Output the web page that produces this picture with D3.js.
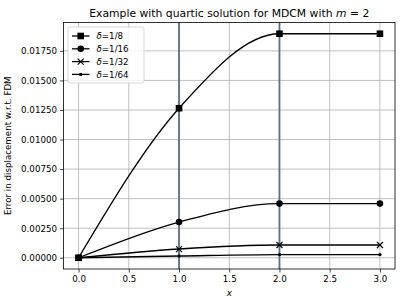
<!DOCTYPE html>
<html>
<head>
<meta charset="utf-8">
<script src="https://cdn.jsdelivr.net/npm/d3@7"></script>
<style>
  body { margin: 0; background: #fff; }
  text { font-family: "DejaVu Sans", sans-serif; }
</style>
</head>
<body>
<div id="chart"></div>
<script>
let xs = [0, 1, 2, 3]
let labels = ['1/8', '1/16', '1/32', '1/64']
let err8 = [0, 0.01265, 0.01895, 0.01895]
let err16 = [0, 0.00302, 0.00458, 0.00458]
let err32 = [0, 0.00074, 0.00108, 0.00108]
let err64 = [0, 0.00015, 0.00027, 0.00027]
let markers = ['square', 'circle', 'cross', 'dot']
let xTicks = [0, 0.5, 1, 1.5, 2, 2.5, 3]
let yTicks = [0, 0.0025, 0.005, 0.0075, 0.01, 0.0125, 0.015, 0.0175]
let vLines = [1, 2]

let series = [err8, err16, err32, err64]

let width = 402, height = 304
let margin = {top: 22.5, right: 7, bottom: 35, left: 63.5}
let plotW = width - margin.left - margin.right
let plotH = height - margin.top - margin.bottom

let svg = d3.select('#chart').append('svg')
    .attr('width', width)
    .attr('height', height)

let g = svg.append('g')
    .attr('transform', `translate(${margin.left},${margin.top})`)

let x = d3.scaleLinear().domain([-0.15, 3.15]).range([0, plotW])
let y = d3.scaleLinear().domain([-0.00095, 0.01990]).range([plotH, 0])

// grid
g.append('g').selectAll('line').data(xTicks).enter().append('line')
    .attr('x1', d => x(d)).attr('x2', d => x(d))
    .attr('y1', 0).attr('y2', plotH)
    .attr('stroke', '#b0b0b0').attr('stroke-width', 0.8)
g.append('g').selectAll('line').data(yTicks).enter().append('line')
    .attr('y1', d => y(d)).attr('y2', d => y(d))
    .attr('x1', 0).attr('x2', plotW)
    .attr('stroke', '#b0b0b0').attr('stroke-width', 0.8)

// vertical markers at x=1, x=2
g.append('g').selectAll('line').data(vLines).enter().append('line')
    .attr('x1', d => x(d)).attr('x2', d => x(d))
    .attr('y1', 0).attr('y2', plotH)
    .attr('stroke', '#5b6f80').attr('stroke-width', 1.8)

let line = d3.line()
    .x((d, i) => x(xs[i]))
    .y(d => y(d))
    .curve(d3.curveMonotoneX)

function drawMarker(sel, type, cx, cy) {
    if (type == 'square') {
        sel.append('rect').attr('x', cx - 3.3).attr('y', cy - 3.3)
            .attr('width', 6.6).attr('height', 6.6).attr('fill', '#000')
    } else if (type == 'circle') {
        sel.append('circle').attr('cx', cx).attr('cy', cy).attr('r', 3.3).attr('fill', '#000')
    } else if (type == 'cross') {
        sel.append('path')
            .attr('d', `M${cx - 3},${cy - 3}L${cx + 3},${cy + 3}M${cx - 3},${cy + 3}L${cx + 3},${cy - 3}`)
            .attr('stroke', '#000').attr('stroke-width', 1.1)
    } else {
        sel.append('circle').attr('cx', cx).attr('cy', cy).attr('r', 1.7).attr('fill', '#000')
    }
}

series.forEach((s, k) => {
    g.append('path')
        .datum(s)
        .attr('fill', 'none')
        .attr('stroke', '#000')
        .attr('stroke-width', 1.3)
        .attr('d', line)
    let mg = g.append('g')
    s.forEach((v, i) => drawMarker(mg, markers[k], x(xs[i]), y(v)))
})

// axes
let xAxis = g.append('g')
    .attr('transform', `translate(0,${plotH})`)
    .call(d3.axisBottom(x).tickValues(xTicks).tickFormat(d3.format('.1f')).tickSize(3.5).tickPadding(3))
let yAxis = g.append('g')
    .call(d3.axisLeft(y).tickValues(yTicks).tickFormat(d3.format('.5f')).tickSize(3.5).tickPadding(3))
;[xAxis, yAxis].forEach(a => {
    a.select('.domain').remove()
    a.selectAll('text').attr('font-size', 8.7).attr('fill', '#000').attr('font-family', 'DejaVu Sans')
    a.selectAll('line').attr('stroke', '#000').attr('stroke-width', 0.7)
})

g.append('rect')
    .attr('width', plotW).attr('height', plotH)
    .attr('fill', 'none').attr('stroke', '#000').attr('stroke-width', 0.8)

// legend
let lg = g.append('g').attr('transform', 'translate(4.5,4.5)')
lg.append('rect')
    .attr('width', 76).attr('height', 56).attr('rx', 2)
    .attr('fill', 'rgba(255,255,255,0.8)').attr('stroke', '#d0d0d0').attr('stroke-width', 0.8)
labels.forEach((l, k) => {
    let ly = 9 + k * 12.8
    lg.append('line').attr('x1', 4).attr('x2', 21.5).attr('y1', ly).attr('y2', ly)
        .attr('stroke', '#000').attr('stroke-width', 1.3)
    drawMarker(lg, markers[k], 12.7, ly)
    let t = lg.append('text').attr('x', 28.5).attr('y', ly + 3.2).attr('font-size', 8.7)
    t.append('tspan').attr('font-style', 'italic').text('δ')
    t.append('tspan').text('=' + l)
})

// labels
svg.append('text')
    .attr('x', margin.left + plotW / 2).attr('y', 16.5)
    .attr('text-anchor', 'middle').attr('font-size', 10.8)
    .call(t => {
        t.append('tspan').text('Example with quartic solution for MDCM with ')
        t.append('tspan').attr('font-style', 'italic').text('m')
        t.append('tspan').text(' = 2')
    })
svg.append('text')
    .attr('x', margin.left + plotW / 2).attr('y', 296)
    .attr('text-anchor', 'middle').attr('font-size', 8.7).attr('font-style', 'italic')
    .text('x')
svg.append('text')
    .attr('transform', `translate(11,${margin.top + plotH / 2}) rotate(-90)`)
    .attr('text-anchor', 'middle').attr('font-size', 8.7)
    .text('Error in displacement w.r.t. FDM')
</script>
</body>
</html>
